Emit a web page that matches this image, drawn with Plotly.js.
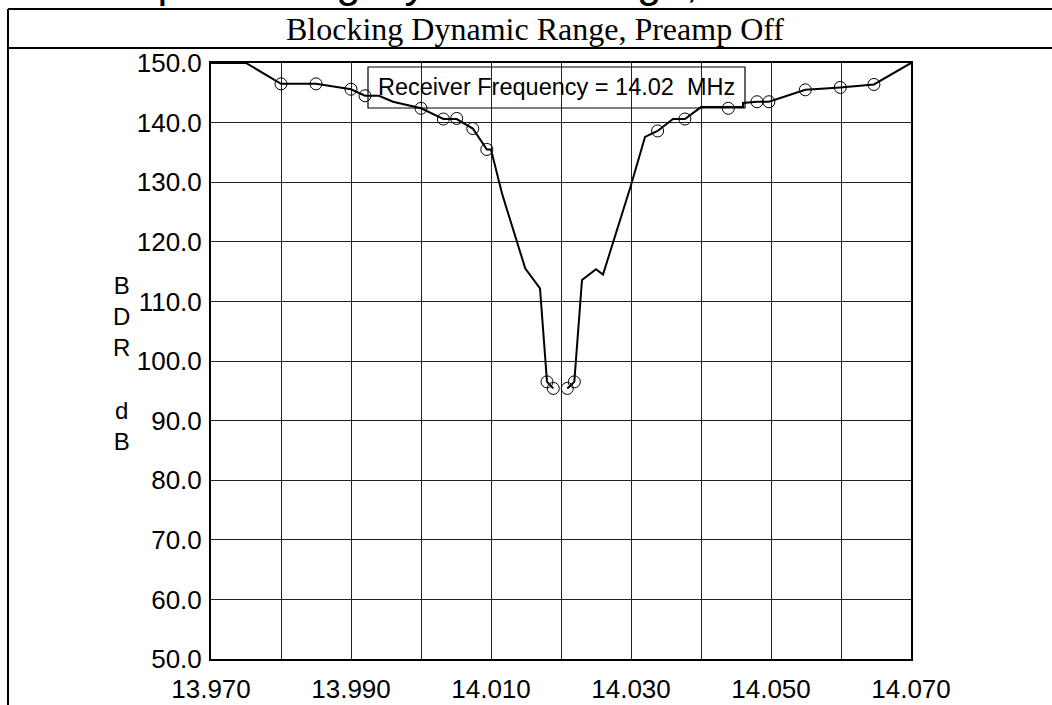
<!DOCTYPE html>
<html>
<head>
<meta charset="utf-8">
<script src="https://cdn.plot.ly/plotly-3.0.1.min.js"></script>
<style>
html,body{margin:0;padding:0;background:#fff;}
#chart{width:1052px;height:705px;}
</style>
</head>
<body>
<div id="chart"></div>
<script>
// Line trace (MHz, dB); null marks the gap at the receiver frequency
const lineFreq = [13.970, 13.975, 13.980, 13.985, 13.990, 13.992, 13.994, 13.996, 14.000, 14.0032, 14.0051, 14.0074, 14.0094, 14.0100, 14.0116, 14.0149, 14.0170, 14.0180, 14.0189, 14.0200, 14.0209, 14.0219, 14.0230, 14.0250, 14.0260, 14.0300, 14.0320, 14.0338, 14.0360, 14.0377, 14.0400, 14.0439, 14.0460, 14.0460, 14.0480, 14.0497, 14.0549, 14.0599, 14.0647, 14.0700];
const lineBDR  = [150.0, 150.0, 146.5, 146.5, 145.6, 144.5, 144.5, 143.5, 142.4, 140.6, 140.6, 139.0, 135.5, 135.5, 128.0, 115.5, 112.2, 96.5, 95.4, null, 95.4, 96.5, 113.6, 115.4, 114.5, 129.5, 137.6, 138.6, 140.6, 140.6, 142.6, 142.6, 142.6, 143.3, 143.5, 143.5, 145.5, 145.9, 146.4, 150.0];
// Measured points (open circles)
const ptFreq = [13.980, 13.985, 13.990, 13.992, 14.000, 14.0032, 14.0051, 14.0074, 14.0094, 14.0180, 14.0189, 14.0209, 14.0219, 14.0338, 14.0377, 14.0439, 14.0480, 14.0497, 14.0549, 14.0599, 14.0647];
const ptBDR  = [146.5, 146.5, 145.6, 144.5, 142.4, 140.6, 140.7, 139.0, 135.5, 96.5, 95.4, 95.4, 96.5, 138.6, 140.6, 142.4, 143.5, 143.5, 145.5, 145.9, 146.4];

const chartTitle = "Blocking Dynamic Range, Preamp Off";
const outerTitle = "Close-up Blocking Dynamic Range, 20 Meters";
const rxLabel = "Receiver Frequency = 14.02\u00a0\u00a0MHz";
const yLabel = "B<br>D<br>R<br> <br>d<br>B";

const sans = "Liberation Sans, Arial, sans-serif";
const serif = "Liberation Serif, Times New Roman, serif";

const traces = [
  {x: lineFreq, y: lineBDR, type: 'scatter', mode: 'lines', connectgaps: false,
   line: {color: '#000', width: 2}, hoverinfo: 'skip', showlegend: false},
  {x: ptFreq, y: ptBDR, type: 'scatter', mode: 'markers',
   marker: {symbol: 'circle-open', size: 12, color: '#000', line: {width: 1, color: '#000'}},
   showlegend: false}
];

const px = v => (v - 211) / 700;     // pixel x -> paper x
const py = v => (659 - v) / 596;     // pixel y -> paper y

const layout = {
  width: 1052, height: 705,
  margin: {l: 211, r: 141, t: 63, b: 46, pad: 0},
  paper_bgcolor: '#fff', plot_bgcolor: '#fff',
  showlegend: false,
  font: {family: sans, color: '#000'},
  xaxis: {
    range: [13.970, 14.070], dtick: 0.02, tick0: 13.970, tickformat: '.3f',
    showgrid: true, gridcolor: '#222', gridwidth: 1,
    minor: {dtick: 0.01, showgrid: true, gridcolor: '#222', gridwidth: 1},
    showline: true, linecolor: '#000', linewidth: 2, mirror: true,
    ticks: '', zeroline: false, ticklabelstandoff: 6,
    tickfont: {family: sans, size: 26, color: '#000'}
  },
  yaxis: {
    range: [50, 150], dtick: 10, tick0: 50, tickformat: '.1f',
    showgrid: true, gridcolor: '#222', gridwidth: 1,
    showline: true, linecolor: '#000', linewidth: 2, mirror: true,
    ticks: '', zeroline: false, ticklabelstandoff: 2,
    tickfont: {family: sans, size: 26, color: '#000'}
  },
  shapes: [
    {type: 'line', xref: 'paper', yref: 'paper', x0: px(8), x1: px(1060), y0: py(9), y1: py(9), line: {color: '#000', width: 2}},
    {type: 'line', xref: 'paper', yref: 'paper', x0: px(8), x1: px(1060), y0: py(48), y1: py(48), line: {color: '#000', width: 2}},
    {type: 'line', xref: 'paper', yref: 'paper', x0: px(8), x1: px(8), y0: py(9), y1: py(720), line: {color: '#000', width: 2}},
    {type: 'rect', xref: 'paper', yref: 'paper', layer: 'below', x0: px(368), x1: px(745), y0: py(108), y1: py(67),
     fillcolor: '#fff', line: {color: '#000', width: 1.2}}
  ],
  annotations: [
    {text: outerTitle, xref: 'paper', yref: 'paper', x: px(4), y: 1, xanchor: 'left', yanchor: 'bottom', yshift: 55,
     showarrow: false, font: {family: sans, size: 44, color: '#000'}},
    {text: chartTitle, xref: 'paper', yref: 'paper', x: px(535), y: py(29), xanchor: 'center', yanchor: 'middle',
     showarrow: false, font: {family: serif, size: 32, color: '#000'}},
    {text: rxLabel, xref: 'paper', yref: 'paper', x: px(556.5), y: py(87.5), xanchor: 'center', yanchor: 'middle',
     showarrow: false, align: 'center',
     font: {family: sans, size: 23.5, color: '#000'}},
    {text: yLabel, xref: 'paper', yref: 'paper', x: px(121), y: py(363), xanchor: 'center', yanchor: 'middle',
     showarrow: false, align: 'center', font: {family: sans, size: 24, color: '#000'}}
  ]
};

Plotly.newPlot('chart', traces, layout, {displayModeBar: false, staticPlot: true});
</script>
</body>
</html>
